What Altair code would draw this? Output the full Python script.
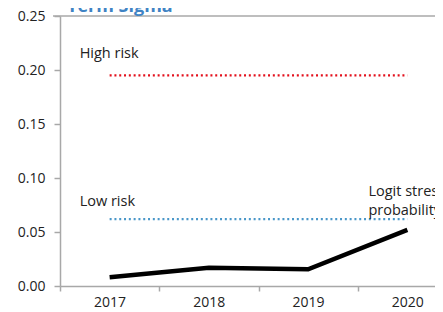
import altair as alt
import pandas as pd

years = ["2017", "2018", "2019", "2020"]
stress = [0.008, 0.017, 0.0155, 0.052]
high_risk = 0.195
low_risk = 0.062
y_ticks = [0.0, 0.05, 0.10, 0.15, 0.20, 0.25]
chart_title = "Term Sigma"

FONT = "Open Sans"
AXIS_COLOR = "#a8a8a8"

df = pd.DataFrame({"year": years, "value": stress})
thr = pd.DataFrame({
    "year": years * 2,
    "value": [high_risk] * 4 + [low_risk] * 4,
    "level": ["High risk"] * 4 + ["Low risk"] * 4,
})

xscale = alt.Scale(domain=years, paddingInner=0, paddingOuter=0)
yscale = alt.Scale(domain=[0, 0.25], nice=False, zero=True)

xaxis = alt.Axis(title=None, labelAngle=0, tickBand="extent", tickSize=5,
                 labelPadding=4, labelFont=FONT, labelFontSize=14,
                 labelColor="#222222", domainColor=AXIS_COLOR, tickColor=AXIS_COLOR,
                 domainWidth=1.5, tickWidth=1.5)
yaxis = alt.Axis(title=None, values=y_ticks, format=".2f", tickSize=6,
                 labelPadding=9, labelFont=FONT, labelFontSize=14,
                 labelColor="#222222", domainColor=AXIS_COLOR, tickColor=AXIS_COLOR,
                 domainWidth=1.5, tickWidth=1.5, grid=False)

base_x = alt.X("year:N", scale=xscale, axis=xaxis, sort=years)
base_y = alt.Y("value:Q", scale=yscale, axis=yaxis)

top_rule = alt.Chart(pd.DataFrame({"value": [0.25]})).mark_rule(
    color=AXIS_COLOR, strokeWidth=1.5
).encode(y=base_y, x=alt.value(-7), x2=alt.value(400))

high_line = alt.Chart(thr[thr.level == "High risk"]).mark_line(
    color="#e3101c", strokeWidth=2.2, strokeDash=[2, 2.8]
).encode(x=base_x, y=base_y)

low_line = alt.Chart(thr[thr.level == "Low risk"]).mark_line(
    color="#4a97c9", strokeWidth=2.2, strokeDash=[2, 2.8]
).encode(x=base_x, y=base_y)

stress_line = alt.Chart(df).mark_line(color="black", strokeWidth=4.5).encode(x=base_x, y=base_y)

labels = pd.DataFrame({
    "year": ["2017", "2017"],
    "value": [high_risk + 0.02, low_risk + 0.016],
    "text": ["High risk", "Low risk"],
})
label_text = alt.Chart(labels).mark_text(
    align="left", baseline="middle", font=FONT, fontSize=14.5, color="#222222", dx=-30
).encode(x=base_x, y=base_y, text="text:N")

series_label = pd.DataFrame({
    "year": ["2020"],
    "value": [0.087],
    "text": ["Logit stress\nprobability"],
})
series_text = alt.Chart(series_label).mark_text(
    align="left", baseline="middle", font=FONT, fontSize=14.5, color="#222222",
    dx=-39, lineBreak="\n", lineHeight=19
).encode(x=base_x, y=base_y, text="text:N")

title_text = alt.Chart(pd.DataFrame({"t": [chart_title]})).mark_text(
    align="left", baseline="alphabetic", font=FONT, fontSize=18, fontWeight="bold",
    color="#3f83c4"
).encode(x=alt.value(7), y=alt.value(-4), text="t:N")

chart = alt.layer(top_rule, high_line, low_line, stress_line, label_text, series_text,
                  title_text).properties(
    width=397, height=270,
    padding={"left": 52, "top": 8, "right": -22, "bottom": 24},
    autosize=alt.AutoSizeParams(type="none"),
).configure_view(stroke=None)

chart.save("out.html", embed_options={"renderer": "svg", "actions": False})
